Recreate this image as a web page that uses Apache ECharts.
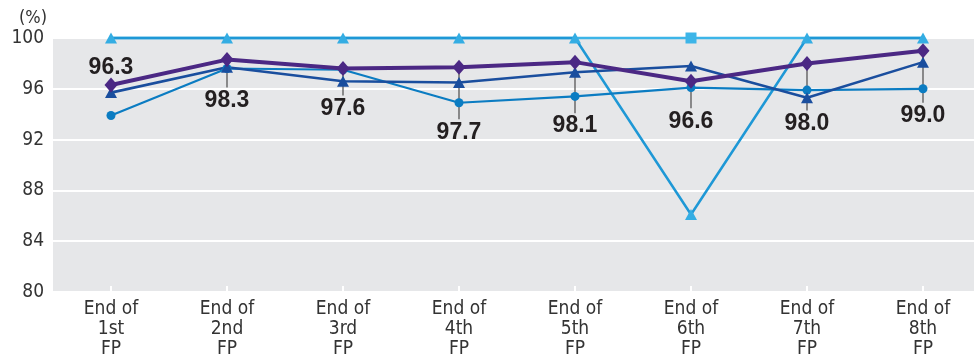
<!DOCTYPE html>
<html>
<head>
<meta charset="utf-8">
<script src="https://cdn.jsdelivr.net/npm/echarts@6/dist/echarts.min.js"></script>
<style>
  html, body { margin: 0; padding: 0; background: #ffffff; }
  #chart { width: 974px; height: 356px; }
</style>
</head>
<body>
<div id="chart"></div>
<script>
// Period labels along the x axis
const periods = ['End of\n1st\nFP', 'End of\n2nd\nFP', 'End of\n3rd\nFP', 'End of\n4th\nFP',
                 'End of\n5th\nFP', 'End of\n6th\nFP', 'End of\n7th\nFP', 'End of\n8th\nFP'];

// Occupancy rates (%) per period
const seriesSquare   = [100, 100, 100, 100, 100, 100, 100, 100];
const seriesTriangle = [100, 100, 100, 100, 100, 86.1, 100, 100];
const seriesCircle   = [93.9, 97.6, 97.5, 94.9, 95.4, 96.1, 95.9, 96.0];
const seriesDark     = [95.7, 97.7, 96.6, 96.5, 97.3, 97.8, 95.3, 98.1];
const seriesTotal    = [96.3, 98.3, 97.6, 97.7, 98.1, 96.6, 98.0, 99.0];

// Value axis ticks
const yMin = 80, yMax = 100, yStep = 4;

// Vertical pixel offset of each value label from its point (negative = above)
const labelShift = [-17, 41, 40, 65, 64, 40, 60, 65];

const axisFont = '"Liberation Sans Narrow", "DejaVu Sans Condensed", sans-serif';

const chart = echarts.init(document.getElementById('chart'), null, { renderer: 'canvas' });

chart.setOption({
  animation: false,
  backgroundColor: '#ffffff',
  grid: {
    left: 53, top: 38, width: 928, height: 254,
    outerBoundsMode: 'none',
    containLabel: false,
    show: true, backgroundColor: '#e6e7e9', borderWidth: 0
  },
  graphic: [{
    type: 'text', left: 19, top: 9,
    style: { text: '(%)', font: '18px ' + axisFont, fill: '#333333' }
  }],
  xAxis: {
    type: 'category',
    data: periods,
    boundaryGap: true,
    axisLine: { show: false },
    axisTick: { show: true, inside: true, length: 6, alignWithLabel: true,
                lineStyle: { color: '#ffffff', width: 2 } },
    axisLabel: { color: '#333333', fontFamily: axisFont, fontSize: 19,
                 lineHeight: 20, margin: 7 },
    splitLine: { show: false }
  },
  yAxis: {
    type: 'value', min: yMin, max: yMax, interval: yStep,
    axisLine: { show: false },
    axisTick: { show: false },
    axisLabel: { color: '#333333', fontFamily: axisFont, fontSize: 19, margin: 9 },
    splitLine: { lineStyle: { color: '#ffffff', width: 2 } }
  },
  series: [
    {
      name: 'square', type: 'line', data: seriesSquare, clip: false,
      symbol: (v, p) => (p.dataIndex === 5 ? 'rect' : 'none'),
      symbolSize: 11,
      lineStyle: { color: '#3db5e8', width: 2.5 },
      itemStyle: { color: '#3db5e8' }
    },
    {
      name: 'triangle', type: 'line', data: seriesTriangle, clip: false,
      symbol: 'triangle', symbolSize: [12, 11],
      lineStyle: { color: '#1e98d6', width: 2.5 },
      itemStyle: { color: '#34ade3' }
    },
    {
      name: 'circle', type: 'line', data: seriesCircle, clip: false,
      symbol: 'circle', symbolSize: 9,
      lineStyle: { color: '#0b7cc2', width: 2.2 },
      itemStyle: { color: '#0b7cc2' }
    },
    {
      name: 'dark', type: 'line', data: seriesDark, clip: false,
      symbol: 'triangle', symbolSize: [12, 11],
      lineStyle: { color: '#1a4e9e', width: 2.6 },
      itemStyle: { color: '#1a4e9e' }
    },
    {
      // value labels for the total series with their leader lines
      name: 'labels', type: 'custom', clip: false,
      data: seriesTotal.map((v, i) => [i, v]),
      encode: { x: 0, y: 1 },
      renderItem: function (params, api) {
        const i = api.value(0);
        const v = api.value(1);
        const pt = api.coord([i, v]);
        const dy = labelShift[params.dataIndex];
        const children = [];
        if (dy > 0) {
          children.push({
            type: 'line',
            shape: { x1: pt[0], y1: pt[1] + 2, x2: pt[0], y2: pt[1] + dy - 13 },
            style: { stroke: '#4a4a4a', lineWidth: 1.2 }
          });
        }
        children.push({
          type: 'text',
          style: {
            x: pt[0], y: pt[1] + dy,
            text: v.toFixed(1),
            textAlign: 'center', textVerticalAlign: 'middle',
            font: 'bold 23px "Liberation Sans", Arial, sans-serif',
            fill: '#231f20'
          }
        });
        return { type: 'group', children: children };
      }
    },
    {
      name: 'total', type: 'line', data: seriesTotal, clip: false,
      symbol: 'diamond', symbolSize: [13, 15],
      lineStyle: { color: '#4b2884', width: 4 },
      itemStyle: { color: '#4b2884' }
    }
  ]
});
</script>
</body>
</html>
